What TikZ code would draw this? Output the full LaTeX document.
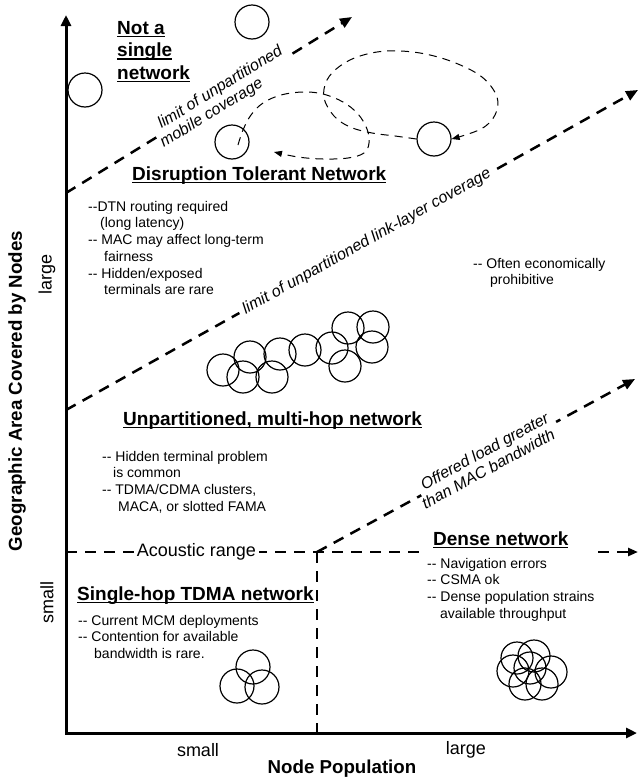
\documentclass[tikz,border=0pt]{standalone}
\usepackage{fontspec}
\setmainfont{Liberation Sans}
\usetikzlibrary{arrows.meta}
\newcommand\ulbf[1]{\setbox0=\hbox{#1}\rlap{\copy0}\rule[-3.2pt]{\wd0}{1.5pt}}
\newcommand\fl{\rule{0pt}{12pt}}
\begin{document}
\begin{tikzpicture}[x=1pt,y=-1pt,
  axisline/.style={line width=3pt},
  bigdash/.style={line width=2.5pt, dash pattern=on 11pt off 8pt},
  bigarrow/.style={bigdash, -{Triangle[length=12pt,width=10pt]}},
  loopdash/.style={line width=1pt, dash pattern=on 8pt off 6pt, -{Triangle[length=8pt,width=6pt]}},
  nodecirc/.style={circle, draw, line width=1.2pt, minimum size=34pt, inner sep=0pt},
  smallcirc/.style={nodecirc, minimum size=32pt},
  txtbody/.style={font=\fontsize{14}{16.7}\selectfont, align=left, anchor=north west, inner sep=0pt},
  txttitle/.style={font=\fontsize{19}{22.5}\selectfont\bfseries, anchor=base west, inner sep=0pt},
  slantlab/.style={font=\fontsize{16}{17.5}\selectfont\itshape, sloped, fill=white, align=left, inner xsep=5pt, inner ysep=2pt},
  axislab/.style={font=\fontsize{18.7}{22}\selectfont\bfseries},
  ticklab/.style={font=\fontsize{18}{22}\selectfont}]
\useasboundingbox (0,0) rectangle (640,782);
\fill[white] (0,0) rectangle (640,782);
% coordinates
\coordinate (O) at (66,733);
\coordinate (ytip) at (66,15);
\coordinate (xtip) at (637,733);
\coordinate (l1s) at (66,193);
\coordinate (l1e) at (352,17);
\coordinate (l2s) at (66,410);
\coordinate (l2e) at (638,90);
\coordinate (ac) at (66,552);
\coordinate (ace) at (638,552);
\coordinate (cor) at (317,552);
\coordinate (corb) at (317,733);
\coordinate (l3e) at (635,379);
% dashed region boundaries
\draw[bigdash] (cor) -- (corb);
\draw[bigarrow, -{Triangle[length=10pt,width=8pt]}] (ac) -- node[pos=0.228, fill=white, inner xsep=3pt, inner ysep=1pt, font=\fontsize{18}{20}\selectfont] (acl) {Acoustic range} (ace);
\draw[bigarrow] (l1s) -- node[slantlab, pos=0.556] (lab1) {limit of unpartitioned\\\hspace*{-8pt}mobile coverage} (l1e);
\draw[bigarrow] (l2s) -- node[slantlab, pos=0.526] (lab2) {limit of unpartitioned link-layer coverage} (l2e);
\draw[bigarrow] (cor) -- node[slantlab, pos=0.54] (lab3) {Offered load greater\\\hspace*{-8pt}than MAC bandwidth} (l3e);
% axes
\draw[axisline, {Triangle[length=11pt,width=10pt]}-{Triangle[length=11pt,width=10pt]}] (ytip) -- (O) -- (xtip);
% isolated nodes
\node[nodecirc] (c1) at (252,22) {};
\node[nodecirc] (c2) at (85,90) {};
\node[nodecirc] (lc) at (232,142) {};
\node[nodecirc] (rc) at (434,139) {};
% DTN movement loops
\coordinate (p0) at (238,145);
\coordinate (p1) at (274,152);
\draw[loopdash] plot[smooth, tension=0.6] coordinates {(p0) (243,130) (251,115) (263,103) (281,95) (303,92) (323,94) (343,102) (358,114) (367,129) (369,143) (364,153) (348,158) (323,159) (298,157) (p1)};
\draw[loopdash] plot[smooth, tension=0.6] coordinates {(rc.west) (395,136) (372,133) (350,127) (334,116) (324,98) (327,80) (340,66) (360,56) (387,51) (420,53) (453,62) (482,77) (497,97) (495,115) (481,129) (rc.east)};
% multi-hop cluster
\node[smallcirc] (m1) at (223,370) {};
\node[smallcirc] (m2) at (250,357) {};
\node[smallcirc] (m3) at (243,377) {};
\node[smallcirc] (m4) at (272,377) {};
\node[smallcirc] (m5) at (280,354) {};
\node[smallcirc] (m6) at (305,350) {};
\node[smallcirc] (m7) at (332,348) {};
\node[smallcirc] (m8) at (345,366) {};
\node[smallcirc] (m9) at (348,328) {};
\node[smallcirc] (m10) at (373,327) {};
\node[smallcirc] (m11) at (372,347) {};
% single-hop cluster
\node[nodecirc] (s1) at (253,667) {};
\node[nodecirc] (s2) at (237,686) {};
\node[nodecirc] (s3) at (262,687) {};
% dense cluster
\node[smallcirc] (d1) at (517,658) {};
\node[smallcirc] (d2) at (534,656) {};
\node[smallcirc] (d3) at (513,671) {};
\node[smallcirc] (d4) at (551,672) {};
\node[smallcirc] (d5) at (530,668) {};
\node[smallcirc] (d6) at (525,684) {};
\node[smallcirc] (d7) at (542,684) {};
% titles
\node[txttitle, anchor=north west, align=left] (tnot) at (117,19) {\rule{0pt}{15pt}\ulbf{Not a}\\\ulbf{single}\\\ulbf{network}};
\node[txttitle] (tdtn) at (132,180) {\ulbf{Disruption Tolerant Network}};
\node[txttitle] (tunp) at (123,425) {\ulbf{Unpartitioned, multi-hop network}};
\node[txttitle] (tsh) at (77,600) {\ulbf{Single-hop TDMA network}};
\node[txttitle] (tden) at (433,545) {\ulbf{Dense network}};
% bullet texts
\node[txtbody] (dtnb) at (88,199) {\fl-{}-DTN routing required\\\hspace*{12pt}(long latency)\\-{}- MAC may affect long-term\\\hspace*{16pt}fairness\\-{}- Hidden/exposed\\\hspace*{16pt}terminals are rare};
\node[txtbody] (often) at (473,256) {\fl-{}- Often economically\\\hspace*{17pt}prohibitive};
\node[txtbody] (unpb) at (102,449) {\fl-{}- Hidden terminal problem\\\hspace*{11pt}is common\\-{}- TDMA/CDMA clusters,\\\hspace*{16pt}MACA, or slotted FAMA};
\node[txtbody] (shb) at (78,613) {\fl-{}- Current MCM deployments\\-{}- Contention for available\\\hspace*{16pt}bandwidth is rare.};
\node[txtbody, fill=white, inner xsep=3pt] (denb) at (424,548) {\rule{0pt}{20pt}-{}- Navigation errors\\-{}- CSMA ok\\-{}- Dense population strains\hspace*{8pt}\\\hspace*{13pt}available throughput};
% axis labels
\node[axislab, rotate=90] (ylab) at (17,391) {Geographic Area Covered by Nodes};
\node[ticklab, rotate=90] (ylarge) at (47,274) {large};
\node[ticklab, rotate=90] (ysmall) at (47,602) {small};
\node[ticklab] (xsmall) at (198,750) {small};
\node[ticklab] (xlarge) at (466,750) {large};
\node[axislab] (xlab) at (342,769) {Node Population};
\end{tikzpicture}
\end{document}
